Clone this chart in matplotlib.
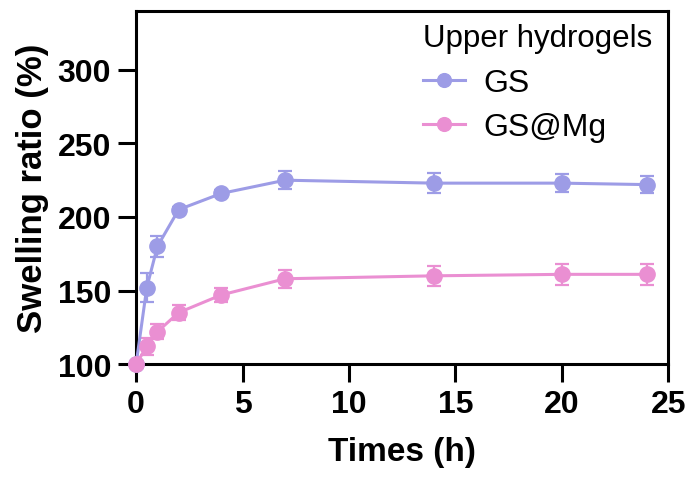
import matplotlib.pyplot as plt

plt.rcParams['font.family'] = ['Liberation Sans', 'DejaVu Sans']

times = [0, 0.5, 1, 2, 4, 7, 14, 20, 24]
gs = [100, 152, 180, 205, 216, 225, 223, 223, 222]
gs_err = [0, 10, 7, 2, 2, 6, 7, 6, 6]
gs_mg = [100, 112, 122, 135, 147, 158, 160, 161, 161]
gs_mg_err = [0, 6, 5, 5, 5, 6, 7, 7, 7]

fig = plt.figure(figsize=(6.91, 4.81), dpi=100)
ax = fig.add_axes([0.197, 0.241, 0.77, 0.734])

c1 = ax.errorbar(times, gs, yerr=gs_err, color='#9d9ce6', marker='o', markersize=11,
                 linewidth=2.2, elinewidth=1.6, capsize=5, capthick=1.6, clip_on=False, zorder=3)
c2 = ax.errorbar(times, gs_mg, yerr=gs_mg_err, color='#ea8fd2', marker='o', markersize=11,
                 linewidth=2.2, elinewidth=1.6, capsize=5, capthick=1.6, clip_on=False, zorder=3)

ax.set_xlim(0, 25)
ax.set_ylim(100, 340)
ax.set_xticks([0, 5, 10, 15, 20, 25])
ax.set_yticks([100, 150, 200, 250, 300])

for s in ax.spines.values():
    s.set_linewidth(2.2)
ax.tick_params(direction='out', length=13, width=2.2, labelsize=23, pad=5)
for lab in ax.get_xticklabels() + ax.get_yticklabels():
    lab.set_fontweight('bold')

ax.set_xlabel('Times (h)', fontsize=24, fontweight='bold', labelpad=12)
ax.set_ylabel('Swelling ratio (%)', fontsize=25, fontweight='bold', labelpad=6)

leg = ax.legend([c1.lines[0], c2.lines[0]], ['GS', 'GS@Mg'], title='Upper hydrogels',
                loc='upper right', frameon=False, fontsize=23, title_fontsize=22.5,
                handlelength=1.3, handletextpad=0.6, borderaxespad=0.1, labelspacing=0.45,
                markerscale=0.9, bbox_to_anchor=(1.0, 1.01))
leg._legend_box.align = 'left'

fig.savefig('out.png', dpi=100)
